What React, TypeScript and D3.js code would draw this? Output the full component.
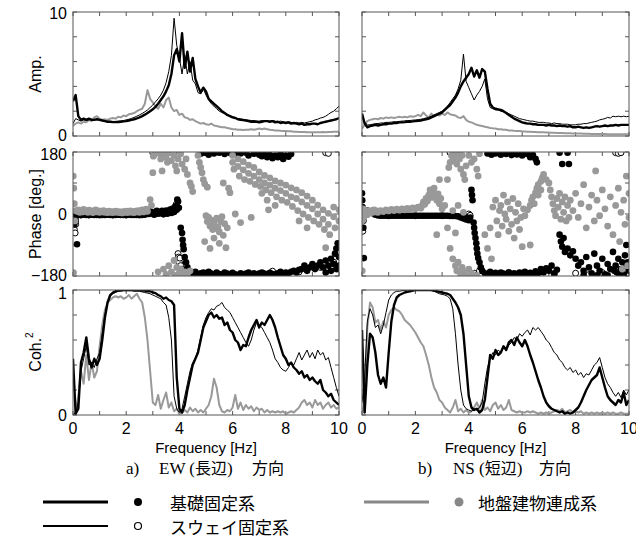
import React from 'react';
import * as d3 from 'd3';

// frequency grid (Hz) for the line spectra
const FREQ: number[] = d3.range(101).map((i) => i / 10);

// ---------- Amplitude (EW) ----------
const ampEW_fix = [2.8, 3.3, 1.6, 1.3, 1.4, 1.3, 1.4, 1.3, 1.3, 1.35,
  1.3, 1.25, 1.2, 1.15, 1.15, 1.12, 1.12, 1.13, 1.15, 1.18,
  1.2, 1.25, 1.3, 1.35, 1.42, 1.5, 1.6, 1.72, 1.85, 2.0,
  2.15, 2.35, 2.6, 2.9, 3.2, 3.6, 4.1, 5.0, 6.5, 7.0,
  6.0, 8.3, 5.5, 6.8, 5.2, 6.3, 4.6, 4.0, 3.5, 3.9,
  3.6, 3.0, 2.8, 2.6, 2.4, 2.2, 2.0, 1.85, 1.7, 1.6,
  1.5, 1.45, 1.35, 1.3, 1.28, 1.25, 1.2, 1.15, 1.15, 1.15,
  1.1, 1.15, 1.2, 1.2, 1.15, 1.2, 1.1, 1.15, 1.05, 1.1,
  1.05, 1.1, 1.0, 1.05, 1.0, 0.95, 1.0, 0.9, 0.95, 0.95,
  1.0, 1.0, 0.95, 1.05, 1.1, 1.15, 1.2, 1.25, 1.3, 1.35, 1.45];
const ampEW_sway = [1.0, 1.4, 1.3, 1.2, 1.3, 1.25, 1.3, 1.35, 1.3, 1.35,
  1.3, 1.25, 1.2, 1.18, 1.18, 1.17, 1.18, 1.2, 1.22, 1.25,
  1.3, 1.35, 1.42, 1.5, 1.6, 1.7, 1.82, 1.95, 2.1, 2.3,
  2.5, 2.75, 3.0, 3.3, 3.7, 4.3, 5.2, 6.5, 9.5, 7.3,
  6.3, 5.0, 6.5, 5.0, 6.0, 4.5, 4.2, 3.5, 3.4, 3.8,
  3.3, 2.9, 2.6, 2.4, 2.2, 2.0, 1.9, 1.8, 1.7, 1.6,
  1.55, 1.5, 1.4, 1.4, 1.35, 1.3, 1.28, 1.25, 1.25, 1.2,
  1.2, 1.25, 1.2, 1.25, 1.2, 1.25, 1.2, 1.15, 1.2, 1.15,
  1.1, 1.15, 1.1, 1.05, 1.1, 1.05, 1.1, 1.05, 1.1, 1.15,
  1.2, 1.3, 1.35, 1.45, 1.5, 1.6, 1.75, 1.9, 2.0, 2.2, 2.4];
const ampEW_ssi = [0.8, 1.0, 1.1, 1.0, 1.15, 1.1, 1.3, 1.2, 1.5, 1.6,
  1.4, 1.3, 1.35, 1.3, 1.4, 1.45, 1.4, 1.55, 1.5, 1.65,
  1.6, 1.75, 1.8, 1.85, 2.0, 2.1, 2.2, 2.6, 3.7, 3.0,
  2.7, 2.4, 2.2, 2.6, 2.3, 2.9, 3.1, 2.3, 2.0, 2.1,
  1.7, 1.8, 1.5, 1.45, 1.3, 1.35, 1.2, 1.1, 1.0, 1.05,
  0.95, 0.9, 1.0, 0.85, 0.8, 0.75, 0.7, 0.7, 0.65, 0.6,
  0.55, 0.55, 0.5, 0.5, 0.48, 0.5, 0.5, 0.55, 0.5, 0.55,
  0.6, 0.55, 0.6, 0.55, 0.5, 0.48, 0.45, 0.45, 0.42, 0.4,
  0.4, 0.38, 0.38, 0.35, 0.35, 0.33, 0.33, 0.32, 0.3, 0.3,
  0.3, 0.3, 0.3, 0.3, 0.32, 0.3, 0.32, 0.33, 0.35, 0.35, 0.35];

// ---------- Amplitude (NS) ----------
const ampNS_fix = [1.8, 1.0, 0.7, 0.8, 0.85, 0.9, 0.85, 0.9, 0.95, 0.95,
  1.0, 1.0, 1.05, 1.05, 1.1, 1.1, 1.12, 1.15, 1.15, 1.18,
  1.2, 1.22, 1.25, 1.3, 1.35, 1.4, 1.5, 1.6, 1.7, 1.8,
  1.9, 2.1, 2.3, 2.5, 2.8, 3.1, 3.5, 4.0, 4.4, 4.7,
  5.0, 5.5, 4.8, 5.3, 4.7, 5.4, 5.2, 3.8, 2.6, 2.3,
  2.2, 2.15, 2.1, 2.0, 1.85, 1.7, 1.55, 1.4, 1.3, 1.2,
  1.1, 1.05, 1.0, 1.0, 0.95, 0.95, 0.9, 0.9, 0.9, 0.85,
  0.9, 0.85, 0.85, 0.8, 0.85, 0.8, 0.8, 0.75, 0.8, 0.7,
  0.7, 0.75, 0.7, 0.65, 0.7, 0.65, 0.7, 0.75, 0.8, 0.75,
  0.8, 0.85, 0.8, 0.85, 0.85, 0.9, 0.85, 0.9, 0.9, 0.9, 0.9];
const ampNS_sway = [1.5, 1.1, 0.9, 0.9, 0.95, 1.0, 1.0, 1.05, 1.05, 1.1,
  1.1, 1.12, 1.15, 1.15, 1.18, 1.2, 1.22, 1.25, 1.25, 1.28,
  1.3, 1.32, 1.35, 1.4, 1.45, 1.5, 1.6, 1.7, 1.8, 1.9,
  2.0, 2.2, 2.4, 2.7, 3.0, 3.3, 3.8, 4.5, 6.6, 4.4,
  3.9, 3.4, 2.9, 3.3, 3.6, 4.0, 4.6, 3.0, 2.3, 2.2,
  2.1, 2.1, 2.0, 1.95, 1.9, 1.8, 1.7, 1.6, 1.5, 1.4,
  1.35, 1.3, 1.25, 1.2, 1.2, 1.15, 1.1, 1.1, 1.1, 1.05,
  1.05, 1.0, 1.05, 1.0, 1.0, 0.95, 0.95, 0.95, 0.9, 0.9,
  0.9, 0.95, 0.95, 1.0, 1.0, 1.05, 1.1, 1.15, 1.2, 1.3,
  1.35, 1.4, 1.5, 1.45, 1.6, 1.55, 1.6, 1.55, 1.6, 1.55, 1.6];
const ampNS_ssi = [0.6, 0.9, 1.2, 1.3, 1.35, 1.4, 1.35, 1.45, 1.4, 1.5,
  1.45, 1.5, 1.45, 1.5, 1.55, 1.5, 1.55, 1.5, 1.6, 1.55,
  1.6, 1.7, 1.6, 1.9, 1.65, 1.5, 1.8, 1.6, 1.75, 1.65,
  1.8, 1.7, 1.9, 1.75, 1.7, 1.65, 1.5, 1.45, 1.6, 1.3,
  1.15, 1.1, 1.0, 0.9, 0.85, 0.8, 0.75, 0.7, 0.65, 0.62,
  0.6, 0.55, 0.55, 0.5, 0.5, 0.45, 0.45, 0.42, 0.4, 0.4,
  0.38, 0.37, 0.35, 0.35, 0.33, 0.32, 0.3, 0.3, 0.3, 0.28,
  0.28, 0.27, 0.26, 0.25, 0.25, 0.24, 0.23, 0.22, 0.22, 0.2,
  0.2, 0.2, 0.2, 0.18, 0.18, 0.18, 0.17, 0.17, 0.17, 0.16,
  0.16, 0.16, 0.15, 0.15, 0.15, 0.15, 0.15, 0.15, 0.15, 0.15, 0.15];

// ---------- Coherence (EW) ----------
const cohEW_fix = [0.45, 0.01, 0.05, 0.42, 0.5, 0.62, 0.45, 0.38, 0.45, 0.4,
  0.45, 0.6, 0.78, 0.9, 0.96, 0.98, 0.99, 0.995, 1.0, 1.0,
  1.0, 1.0, 1.0, 1.0, 1.0, 1.0, 0.995, 0.995, 0.99, 0.99,
  0.98, 0.975, 0.96, 0.95, 0.93, 0.94, 0.92, 0.91, 0.88, 0.3,
  0.05, 0.02, 0.08, 0.2, 0.3, 0.4, 0.45, 0.5, 0.6, 0.7,
  0.75, 0.8, 0.82, 0.78, 0.8, 0.77, 0.78, 0.72, 0.74, 0.68,
  0.66, 0.6, 0.58, 0.52, 0.56, 0.55, 0.62, 0.68, 0.72, 0.76,
  0.7, 0.74, 0.72, 0.76, 0.8, 0.76, 0.7, 0.62, 0.55, 0.48,
  0.45, 0.4, 0.42, 0.38, 0.36, 0.33, 0.35, 0.3, 0.32, 0.28,
  0.3, 0.27, 0.25, 0.28, 0.2, 0.18, 0.15, 0.17, 0.12, 0.1, 0.08];
const cohEW_sway = [0.0, 0.02, 0.1, 0.35, 0.45, 0.55, 0.4, 0.42, 0.38, 0.45,
  0.5, 0.65, 0.8, 0.9, 0.95, 0.97, 0.98, 0.99, 0.99, 0.995,
  0.995, 0.995, 0.995, 0.99, 0.99, 0.99, 0.985, 0.98, 0.975, 0.97,
  0.96, 0.95, 0.94, 0.93, 0.9, 0.88, 0.78, 0.6, 0.15, 0.05,
  0.02, 0.05, 0.15, 0.25, 0.35, 0.42, 0.45, 0.52, 0.62, 0.72,
  0.78, 0.82, 0.85, 0.84, 0.87, 0.88, 0.9, 0.86, 0.84, 0.82,
  0.78, 0.74, 0.7, 0.66, 0.62, 0.58, 0.55, 0.6, 0.68, 0.74,
  0.72, 0.7, 0.66, 0.62, 0.58, 0.52, 0.45, 0.42, 0.38, 0.36,
  0.35, 0.38, 0.42, 0.4, 0.45, 0.5, 0.44, 0.48, 0.52, 0.46,
  0.5, 0.45, 0.52, 0.48, 0.5, 0.44, 0.46, 0.38, 0.3, 0.22, 0.15];
const cohEW_ssi = [0.0, 0.02, 0.15, 0.35, 0.25, 0.48, 0.28, 0.42, 0.3, 0.35,
  0.55, 0.72, 0.84, 0.9, 0.92, 0.94, 0.95, 0.94, 0.95, 0.93,
  0.94, 0.96, 0.93, 0.95, 0.97, 0.93, 0.9, 0.78, 0.6, 0.35,
  0.1, 0.08, 0.16, 0.05, 0.12, 0.18, 0.06, 0.1, 0.03, 0.05,
  0.01, 0.02, 0.04, 0.02, 0.06, 0.03, 0.05, 0.02, 0.04, 0.02,
  0.05, 0.08, 0.15, 0.29, 0.22, 0.08, 0.03, 0.02, 0.04, 0.03,
  0.06, 0.16, 0.05, 0.1, 0.04, 0.08, 0.05, 0.07, 0.03, 0.06,
  0.04, 0.05, 0.02, 0.04, 0.02, 0.03, 0.02, 0.03, 0.02, 0.03,
  0.01, 0.02, 0.03, 0.02, 0.04, 0.06, 0.1, 0.12, 0.08, 0.1,
  0.06, 0.12, 0.08, 0.1, 0.05, 0.08, 0.1, 0.06, 0.08, 0.05, 0.06];

// ---------- Coherence (NS) ----------
const cohNS_fix = [0.68, 0.02, 0.4, 0.65, 0.62, 0.5, 0.32, 0.25, 0.3, 0.22,
  0.5, 0.75, 0.88, 0.94, 0.96, 0.97, 0.98, 0.985, 0.99, 0.995,
  1.0, 1.0, 1.0, 1.0, 1.0, 1.0, 1.0, 0.995, 0.99, 0.985,
  0.98, 0.975, 0.97, 0.96, 0.93, 0.9, 0.86, 0.8, 0.65, 0.4,
  0.15, 0.06, 0.04, 0.05, 0.02, 0.04, 0.12, 0.3, 0.48, 0.45,
  0.52, 0.48, 0.5, 0.55, 0.52, 0.58, 0.6, 0.56, 0.62, 0.58,
  0.55, 0.6, 0.55, 0.48, 0.42, 0.35, 0.28, 0.22, 0.15, 0.1,
  0.07, 0.05, 0.04, 0.03, 0.02, 0.03, 0.01, 0.02, 0.01, 0.02,
  0.04, 0.06, 0.1, 0.15, 0.2, 0.24, 0.28, 0.3, 0.32, 0.38,
  0.3, 0.22, 0.15, 0.12, 0.1, 0.08, 0.12, 0.1, 0.18, 0.08, 0.12];
const cohNS_sway = [0.1, 0.3, 0.75, 0.85, 0.8, 0.7, 0.72, 0.65, 0.72, 0.82,
  0.92, 0.96, 0.98, 0.99, 0.99, 0.995, 0.995, 1.0, 1.0, 1.0,
  1.0, 1.0, 1.0, 1.0, 1.0, 1.0, 0.995, 0.99, 0.98, 0.97,
  0.965, 0.96, 0.95, 0.93, 0.85, 0.65, 0.4, 0.2, 0.08, 0.05,
  0.04, 0.03, 0.05, 0.04, 0.06, 0.1, 0.25, 0.38, 0.45, 0.5,
  0.48, 0.52, 0.5, 0.55, 0.52, 0.56, 0.58, 0.62, 0.6, 0.65,
  0.63, 0.66, 0.68, 0.64, 0.7, 0.68, 0.7, 0.67, 0.64, 0.6,
  0.58, 0.54, 0.5, 0.48, 0.44, 0.42, 0.38, 0.36, 0.38, 0.34,
  0.36, 0.32, 0.34, 0.3, 0.33, 0.32, 0.36, 0.4, 0.42, 0.46,
  0.38, 0.3, 0.25, 0.22, 0.18, 0.15, 0.18, 0.14, 0.2, 0.16, 0.2];
const cohNS_ssi = [0.0, 0.1, 0.7, 0.9, 0.86, 0.74, 0.76, 0.68, 0.75, 0.7,
  0.8, 0.84, 0.86, 0.84, 0.83, 0.8, 0.76, 0.74, 0.72, 0.69,
  0.66, 0.62, 0.58, 0.55, 0.48, 0.4, 0.3, 0.22, 0.18, 0.12,
  0.1, 0.06, 0.04, 0.02, 0.06, 0.12, 0.03, 0.05, 0.02, 0.04,
  0.02, 0.03, 0.06, 0.1, 0.05, 0.12, 0.04, 0.06, 0.03, 0.08,
  0.1, 0.05, 0.08, 0.04, 0.06, 0.12, 0.04, 0.03, 0.02, 0.03,
  0.02, 0.02, 0.03, 0.02, 0.03, 0.02, 0.01, 0.02, 0.01, 0.02,
  0.01, 0.02, 0.03, 0.04, 0.03, 0.05, 0.02, 0.03, 0.04, 0.02,
  0.03, 0.02, 0.03, 0.01, 0.02, 0.01, 0.02, 0.01, 0.02, 0.01,
  0.02, 0.01, 0.02, 0.01, 0.02, 0.01, 0.01, 0.02, 0.01, 0.01, 0.01];

// ---------- Phase scatter [freq Hz, deg] ----------
type Pt = [number, number];
const phEW_fix: Pt[] = [
  [0.01, -5], [0.02, -25], [0.03, 5], [0.04, -15], [0.05, -30], [0.07, 0], [0.08, -12], [0.1, -20], [0.12, -4], [0.15, -88],
  [0.2, -3], [0.3, -3], [0.4, -2], [0.5, -3], [0.6, -3], [0.7, -2], [0.8, -3], [0.9, -3], [1.0, -2], [1.1, -3],
  [1.2, -3], [1.3, -2], [1.4, -3], [1.5, -3], [1.6, -3], [1.7, -2], [1.8, -3], [1.9, -3], [2.0, -3], [2.1, -2],
  [2.2, -3], [2.3, -3], [2.4, -3], [2.5, -2], [2.6, -3], [2.7, -2],
  [2.8, 6], [2.85, 0], [2.9, 8], [2.95, 2], [3.0, 5], [3.05, -2], [3.1, 4], [3.15, 9], [3.2, 1], [3.25, 6],
  [3.3, 2], [3.35, 9], [3.4, -1], [3.45, 5], [3.5, 10], [3.55, 1], [3.6, 7], [3.65, 13], [3.7, 3], [3.75, 16],
  [3.8, 6], [3.85, 22], [3.9, 12], [3.92, 42], [3.95, 36], [3.98, 18],
  [4.05, -40], [4.1, -55], [4.12, -75], [4.14, -90], [4.16, -102], [4.2, -125], [4.25, -140], [4.3, -155], [4.35, -165],
  [4.4, -170], [4.5, -174], [4.6, -168], [4.7, -176], [4.8, -172], [4.9, -170], [5.0, -175], [5.1, -168], [5.2, -173], [5.3, -177],
  [5.4, -170], [5.5, -174], [5.6, -176], [5.7, -170], [5.8, -173], [5.9, -176], [6.0, -171], [6.1, -175], [6.2, -178], [6.3, -172],
  [6.4, -176], [6.5, -173], [6.6, -170], [6.7, -175], [6.8, -172], [6.9, -176], [7.0, -174], [7.1, -170], [7.2, -173], [7.3, -177],
  [7.4, -171], [7.5, -174], [7.6, -176], [7.7, -172], [7.8, -168], [7.9, -175], [8.0, -170], [8.1, -172], [8.2, -168], [8.3, -165],
  [8.4, -170], [8.5, -162],
  [4.8, 175], [4.95, 178], [5.1, 172], [5.3, 176], [5.5, 178], [5.7, 174], [5.9, 177], [6.1, 172], [6.3, 176], [6.5, 178],
  [6.6, 170], [6.8, 175], [7.0, 172], [7.1, 168], [7.2, 176], [7.3, 165], [7.4, 172], [7.5, 162], [7.6, 170], [7.7, 165],
  [7.8, 175], [7.9, 160], [8.0, 170], [8.1, 166], [8.2, 174],
  [8.6, -160], [8.7, -150], [8.8, -165], [8.9, -155], [9.0, -145], [9.1, -160], [9.2, -150], [9.3, -140], [9.4, -155], [9.5, -135],
  [9.6, -150], [9.7, -130], [9.8, -145], [9.85, -115], [9.9, -100], [9.95, -85], [10, -125], [9.5, -170], [9.7, -165], [9.9, -160], [10, -150],
];
const phEW_sway: Pt[] = [
  [0.02, -10], [0.05, -45], [0.08, -55], [0.1, -30], [0.3, -3], [0.6, -3], [1.0, -3], [1.5, -3], [2.0, -3], [2.5, -3],
  [3.0, 178], [3.1, 176], [3.3, 178], [3.5, 177], [3.6, 178], [3.8, 176], [3.88, 28], [3.9, 22],
  [3.95, -115], [3.97, -125], [4.0, -140], [4.02, -128], [4.05, -150], [4.1, -160], [4.15, -165],
  [5.0, -172], [6.0, -174], [7.0, -173], [7.5, -166], [8.0, -172], [8.5, -168], [9.0, -150], [9.3, -155],
  [9.5, 178], [9.6, 176], [9.8, -140],
];
const phEW_ssi: Pt[] = [
  [0.01, 110], [0.02, -170], [0.03, 75], [0.05, 30], [0.07, -20], [0.1, 10],
  [0.15, 8], [0.2, 12], [0.25, 5], [0.3, 10], [0.35, 6], [0.4, 13], [0.45, 7], [0.5, 9], [0.55, 5], [0.6, 11],
  [0.65, 6], [0.7, 9], [0.75, 4], [0.8, 8], [0.85, 12], [0.9, 6], [0.95, 9], [1.0, 5], [1.05, 8], [1.1, 6],
  [1.15, 10], [1.2, 5], [1.25, 7], [1.3, 4], [1.35, 8], [1.4, 5], [1.45, 7], [1.5, 4], [1.55, 6], [1.6, 8],
  [1.65, 5], [1.7, 7], [1.75, 4], [1.8, 6], [1.85, 3], [1.9, 7], [1.95, 5], [2.0, 8], [2.05, 4], [2.1, 6],
  [2.15, 9], [2.2, 5], [2.25, 7], [2.3, 4], [2.35, 8], [2.4, 6], [2.45, 10], [2.5, 5], [2.55, 8], [2.6, 12],
  [2.65, 6], [2.7, 9], [2.75, 14], [2.8, 8],
  [2.9, 42], [2.95, 25], [3.0, 120], [3.02, 168], [3.05, 172], [3.2, 178], [3.3, 160], [3.35, 125], [3.4, 175], [3.5, 165],
  [3.55, 150], [3.6, 178], [3.7, 155], [3.8, 170], [3.85, 140], [3.9, 125], [3.95, 160], [4.05, 175], [4.1, 145], [4.2, 130],
  [4.25, 160], [4.3, 115], [4.4, 90], [4.45, 80], [4.5, 65],
  [3.2, -168], [3.4, -160], [3.5, -175], [3.6, -150], [3.7, -168], [3.8, -135], [3.85, -178], [3.9, -155], [4.0, -170], [4.05, -160],
  [4.1, -178], [4.2, -168], [4.3, -175], [4.4, -165],
  [4.7, 170], [4.75, 150], [4.8, 135], [4.85, 120], [4.9, 100], [4.95, 88], [5.05, 78],
  [4.95, -80], [5.0, -5], [5.05, -22], [5.1, -10], [5.15, -35], [5.2, -18], [5.25, -45], [5.3, -25], [5.35, -42], [5.4, -12],
  [5.45, -38], [5.5, -52], [5.55, -22], [5.6, -8], [5.65, -62], [5.7, -28], [5.75, -98], [5.8, -40], [5.15, -100], [5.3, -70], [5.5, -85],
  [5.65, 90], [5.85, 75], [5.9, 62],
  [6.0, 170], [6.0, 150], [6.05, 130], [6.2, 160], [6.2, 138], [6.25, 110], [6.4, 152], [6.4, 128], [6.45, 100], [6.6, 142],
  [6.6, 118], [6.65, 95], [6.8, 135], [6.8, 110], [6.85, 86], [7.0, 122], [7.0, 100], [7.05, 80], [7.2, 112], [7.2, 90],
  [7.25, 70], [7.4, 105], [7.4, 84], [7.45, 62], [7.6, 96], [7.6, 75], [7.65, 50], [7.8, 90], [7.8, 68], [7.85, 40],
  [8.0, 84], [8.0, 60], [8.05, 34], [8.2, 76], [8.2, 50], [8.25, 22], [8.4, 70], [8.4, 45], [8.45, 10], [8.6, 62],
  [8.6, 35], [8.65, 0], [8.8, 52], [8.8, 25], [8.85, -10], [9.0, 40], [9.0, 15], [9.05, -20], [9.2, 26], [9.2, 0],
  [9.25, -30], [9.4, 12], [9.4, -15], [9.45, -45], [9.6, 2], [9.6, -30], [9.65, -60], [9.8, 20], [9.8, -8], [9.85, -40],
  [10, 12], [10, -20],
  [6.1, 0], [6.3, -25], [7.3, 40], [7.35, 12], [7.6, 25], [8.5, -20], [9.5, -98], [8.8, -40], [6.7, -10], [7.1, 60],
];

const phNS_fix: Pt[] = [
  [0.0, 60], [0.01, 40], [0.02, 20], [0.03, 0], [0.04, -10], [0.05, -40], [0.07, -128],
  [0.1, 8], [0.2, 10], [0.3, 6], [0.4, 2], [0.5, -2], [0.6, -4], [0.7, -5], [0.8, -5], [0.9, -5], [1.0, -5],
  [1.1, -5], [1.2, -5], [1.3, -5], [1.4, -5], [1.5, -5], [1.6, -5], [1.7, -5], [1.8, -5], [1.9, -5], [2.0, -5],
  [2.1, -5], [2.2, -5], [2.3, -5], [2.4, -5], [2.5, -5], [2.6, -5], [2.7, -5], [2.8, -5], [2.9, -5], [3.0, -5],
  [3.1, -5], [3.2, -5], [3.3, -6], [3.4, -6], [3.5, -6],
  [3.6, -7], [3.7, -10], [3.8, -13], [3.85, -8], [3.9, -16], [3.95, -12], [4.0, -18], [4.05, -10],
  [4.1, 70], [4.12, 55], [4.14, 40], [4.18, -25], [4.2, -40], [4.22, -55], [4.25, -70], [4.28, -85], [4.3, -100], [4.32, -115],
  [4.35, -128], [4.4, -140], [4.45, -155], [4.5, -165],
  [4.6, -172], [4.7, -176], [4.8, -168], [4.9, -174], [5.0, -171], [5.1, -177], [5.2, -170], [5.3, -173], [5.4, -176], [5.5, -169],
  [5.6, -174], [5.7, -172], [5.8, -177], [5.9, -170], [6.0, -174], [6.1, -168], [6.2, -175], [6.3, -171], [6.4, -176], [6.5, -166],
  [6.6, -172], [6.7, -160], [6.8, -170], [6.9, -158], [7.0, -165], [7.1, -150], [7.2, -172], [7.3, -162],
  [4.7, 176], [4.85, 172], [5.0, 176], [5.1, 178], [5.2, 172], [5.3, 177], [5.4, 174], [5.5, 178], [5.6, 171], [5.7, 176],
  [5.8, 173], [5.9, 178], [6.0, 170], [6.1, 176], [6.2, 174], [6.3, 165], [6.4, 172], [6.5, 160], [6.55, 150],
  [7.4, 178], [7.7, 178], [7.5, 145], [7.75, 145],
  [7.4, -60], [7.45, -80], [7.5, -95], [7.55, -70], [7.6, -110], [7.7, -100], [7.8, -120], [7.9, -108], [8.0, -130],
  [8.1, -150], [8.2, -140], [8.3, -165], [8.4, -125], [8.5, -155], [8.6, -172], [8.7, -115], [8.8, -150], [8.9, -165], [9.0, -130],
  [9.1, -175], [9.2, -145], [9.3, -160], [9.4, -110], [9.5, -150], [9.55, -170], [9.6, -130], [9.7, -160], [9.75, -140], [9.8, -175],
  [9.85, -120], [9.9, -155], [9.95, -140], [10, -165], [8.3, -178], [8.8, -178], [9.2, -178], [9.9, -90], [9.45, -165], [9.65, -178],
];
const phNS_sway: Pt[] = [
  [0.0, 10], [0.03, -50], [0.05, -20], [1.0, -5], [2.0, -5], [3.0, -5], [3.8, -2], [3.9, -8], [4.0, 0], [4.05, -4],
  [4.2, -172], [4.3, -178], [4.4, -165], [3.3, 178], [3.45, 176], [3.6, 178], [9.5, 178], [9.6, 176], [9.7, 178],
  [9.8, -175], [9.9, -160], [8.0, -172], [7.2, -175], [8.5, -176], [9.0, -170],
];
const phNS_ssi: Pt[] = [
  [0.0, -20], [0.01, -165], [0.02, 12], [0.03, -5], [0.05, 15], [0.07, -8], [0.1, 5], [0.15, 10], [0.2, -2], [0.25, 8],
  [0.3, 3], [0.35, 10], [0.4, 5], [0.45, 12], [0.5, 6], [0.55, 9], [0.6, 5], [0.7, 10], [0.8, 7], [0.9, 12],
  [1.0, 9], [1.1, 13], [1.2, 10], [1.3, 14], [1.4, 11], [1.5, 15], [1.6, 12], [1.7, 16], [1.8, 14], [1.9, 18],
  [2.0, 15], [2.1, 20], [2.2, 17], [2.25, 24], [2.3, 35], [2.35, 28], [2.4, 45], [2.45, 38], [2.5, 55], [2.55, 70],
  [2.6, 48], [2.65, 62], [2.7, 75], [2.75, 52], [2.8, 40], [2.85, 58], [2.9, 30], [2.95, 45], [3.0, 15], [3.1, 25],
  [2.8, -60], [2.9, 100], [3.2, 100], [3.25, 135], [3.3, 150], [3.35, 170], [3.4, 155], [3.45, 175], [3.5, 165], [3.55, 145],
  [3.6, 178], [3.65, 160], [3.7, 130], [3.75, 170], [3.8, 115], [3.85, 100], [3.9, 140],
  [4.0, 170], [4.1, 150], [4.2, 160], [4.3, 130], [4.35, 110], [4.4, 175],
  [3.3, -100], [3.4, -130], [3.5, -150], [3.55, -165], [3.6, -140], [3.7, -175], [3.75, -155], [3.8, -168], [3.9, -178], [4.0, -160],
  [4.1, -172], [4.3, -178], [3.2, -40], [3.5, -55], [3.4, 10], [3.6, 25], [3.8, 5],
  [4.6, -60], [4.7, -100], [4.8, -40], [4.85, -130], [4.9, 20], [5.0, 40], [5.05, -20], [5.1, -60], [5.15, 10], [5.2, 25],
  [5.25, -35], [5.3, 55], [5.35, 0], [5.4, -15], [5.45, 35], [5.5, -50], [5.55, 15], [5.6, -30], [5.65, 45], [5.7, -70],
  [5.75, 5], [5.8, -20], [5.85, 30], [5.9, -45], [5.95, -10], [6.0, -95], [6.05, 15], [6.3, -90],
  [6.1, -5], [6.2, 12], [6.3, 25], [6.35, 40], [6.4, 50], [6.5, 62], [6.55, 75], [6.6, 85], [6.7, 95], [6.75, 105],
  [6.8, 115], [6.9, 100], [7.0, 90], [6.45, 30], [6.6, 55], [6.7, 70],
  [7.05, 70], [7.1, 50], [7.15, 30], [7.2, 10], [7.25, -5], [7.3, 45], [7.35, 20], [7.4, 60], [7.45, -15], [7.5, 35],
  [7.55, 5], [7.6, 50], [7.65, -20], [7.7, 25], [7.75, -10], [7.8, 40],
  [7.9, 10], [8.0, 60], [8.1, -10], [8.2, 30], [8.3, 85], [8.4, -40], [8.5, 20], [8.6, 55], [8.7, -20], [8.75, 125],
  [8.8, 40], [8.9, -5], [9.0, 70], [9.1, 15], [9.2, -35], [9.3, 50], [9.4, -60], [9.5, 25], [9.6, 75], [9.65, -80],
  [9.7, 5], [9.8, 40], [9.85, -30], [9.9, 110], [10, -10], [9.95, -150], [9.75, -160], [10, 60],
];

// ---------- ticks / labels ----------
const X_TICKS = d3.range(0, 11);
const X_TICK_LABELS = [0, 2, 4, 6, 8, 10];
const AMP_TICKS = [0, 2, 4, 6, 8, 10];
const PH_TICKS = [-180, -90, 0, 90, 180];
const COH_TICKS = [0, 0.2, 0.4, 0.6, 0.8, 1];
// left-axis labels: [value, vertical nudge]
const AMP_LABELS: [number, number][] = [[0, -1], [10, 1]];
const PH_LABELS: [number, number][] = [[-180, -1], [0, 0], [180, 2]];
const COH_LABELS: [number, number][] = [[0, 0], [1, 3]];

const BLACK = '#000';
const GRAY = '#999';
const SANS = '"Liberation Sans", Arial, Helvetica, sans-serif';
const SERIF = '"Liberation Serif", "Times New Roman", "Noto Sans CJK JP", serif';
const CJK = '"Noto Sans CJK JP", sans-serif';

const COLS = [
  { key: 'EW', x0: 73, x1: 339 },
  { key: 'NS', x0: 362, x1: 629 },
];
const ROWS = {
  amp: { y0: 12, y1: 136, dom: [0, 10], ticks: AMP_TICKS, labels: AMP_LABELS },
  ph: { y0: 152, y1: 276, dom: [-180, 180], ticks: PH_TICKS, labels: PH_LABELS },
  coh: { y0: 290, y1: 415, dom: [0, 1], ticks: COH_TICKS, labels: COH_LABELS },
};

const LINES: Record<string, Record<string, number[][]>> = {
  EW: { amp: [ampEW_ssi, ampEW_fix, ampEW_sway], coh: [cohEW_ssi, cohEW_fix, cohEW_sway] },
  NS: { amp: [ampNS_ssi, ampNS_fix, ampNS_sway], coh: [cohNS_ssi, cohNS_fix, cohNS_sway] },
};
const PHASE: Record<string, Pt[][]> = {
  EW: [phEW_sway, phEW_fix, phEW_ssi],
  NS: [phNS_sway, phNS_fix, phNS_ssi],
};

function Frame({ x, y, id, ticks }: any) {
  const [x0, x1] = x.range();
  const [y1, y0] = y.range();
  return (
    <g>
      <defs>
        <clipPath id={id}>
          <rect x={x0} y={y0} width={x1 - x0} height={y1 - y0} />
        </clipPath>
      </defs>
      {X_TICKS.map((t) => (
        <g key={'xt' + t} stroke="#555" strokeWidth={1}>
          <line x1={x(t)} x2={x(t)} y1={y1} y2={y1 - 4} />
          <line x1={x(t)} x2={x(t)} y1={y0} y2={y0 + 4} />
        </g>
      ))}
      {ticks.map((t: number) => (
        <g key={'yt' + t} stroke="#555" strokeWidth={1}>
          <line x1={x0} x2={x0 + 4} y1={y(t)} y2={y(t)} />
          <line x1={x1} x2={x1 - 4} y1={y(t)} y2={y(t)} />
        </g>
      ))}
    </g>
  );
}

export default function App() {
  const panels: any[] = [];
  COLS.forEach((c, ci) => {
    const x = d3.scaleLinear().domain([0, 10]).range([c.x0, c.x1]);
    (['amp', 'ph', 'coh'] as const).forEach((rk) => {
      const r = ROWS[rk];
      const y = d3.scaleLinear().domain(r.dom).range([r.y1, r.y0]);
      const id = `clip-${c.key}-${rk}`;
      let content: any = null;
      if (rk === 'ph') {
        const [sway, fix, ssi] = PHASE[c.key];
        content = (
          <g clipPath={`url(#${id})`}>
            {sway.map((p, i) => (
              <circle key={'s' + i} cx={x(p[0])} cy={y(p[1])} r={3} fill="#fff" stroke={BLACK} strokeWidth={1} />
            ))}
            {fix.map((p, i) => (
              <circle key={'f' + i} cx={x(p[0])} cy={y(p[1])} r={3.3} fill={BLACK} />
            ))}
            {ssi.map((p, i) => (
              <circle key={'g' + i} cx={x(p[0])} cy={y(p[1])} r={3.4} fill={GRAY} />
            ))}
          </g>
        );
      } else {
        const [ssi, fix, sway] = LINES[c.key][rk];
        const line = (vals: number[]) =>
          d3.line<number>().x((_, i) => x(FREQ[i])).y((v) => y(v))(vals) || '';
        content = (
          <g clipPath={`url(#${id})`} fill="none" strokeLinejoin="round">
            <path d={line(ssi)} stroke={GRAY} strokeWidth={2} />
            <path d={line(fix)} stroke={BLACK} strokeWidth={2.4} />
            <path d={line(sway)} stroke={BLACK} strokeWidth={1} />
          </g>
        );
      }
      panels.push(
        <g key={id}>
          <Frame x={x} y={y} id={id} ticks={r.ticks} />
          {content}
          <rect x={c.x0} y={r.y0} width={c.x1 - c.x0} height={r.y1 - r.y0} fill="none" stroke="#555" strokeWidth={1} />
          {ci === 0 && r.labels.map(([t, nudge]) => (
            <text key={'yl' + t} x={67} y={y(t) + nudge} dy="0.35em" textAnchor="end" fontSize={16} fontFamily={SANS}>
              {t < 0 ? '\u2212' + Math.abs(t) : t}
            </text>
          ))}
          {rk === 'coh' && X_TICK_LABELS.map((t) => (
            <text key={'xl' + t} x={x(t)} y={434} textAnchor="middle" fontSize={16} fontFamily={SANS}>{t}</text>
          ))}
          {rk === 'coh' && (
            <text x={(c.x0 + c.x1) / 2} y={453} textAnchor="middle" fontSize={15} fontFamily={SANS}>Frequency [Hz]</text>
          )}
        </g>
      );
    });
  });

  return (
    <svg width={636} height={537} style={{ position: 'absolute', left: 0, top: 0, background: '#fff' }}>
      <rect width={636} height={537} fill="#fff" />
      {panels}
      {/* y axis titles */}
      <text transform="translate(35,74) rotate(-90)" textAnchor="middle" dominantBaseline="central" fontSize={16} fontFamily={SANS}>Amp.</text>
      <text transform="translate(35,214) rotate(-90)" textAnchor="middle" dominantBaseline="central" fontSize={16} fontFamily={SANS}>Phase [deg.]</text>
      <text transform="translate(35,352) rotate(-90)" textAnchor="middle" dominantBaseline="central" fontSize={16} fontFamily={SANS}>
        Coh.<tspan dy={-6} fontSize={10}>2</tspan>
      </text>
      {/* captions */}
      <g fontFamily={SERIF} fontSize={17}>
        <text x={126} y={474}>a)</text>
        <text x={159} y={474}>EW (<tspan fontFamily={CJK} fontSize={16}>長辺</tspan>)</text>
        <text x={252} y={474} fontFamily={CJK} fontSize={16}>方向</text>
        <text x={418} y={474}>b)</text>
        <text x={453} y={474}>NS (<tspan fontFamily={CJK} fontSize={16}>短辺</tspan>)</text>
        <text x={539} y={474} fontFamily={CJK} fontSize={16}>方向</text>
      </g>
      {/* legend */}
      <line x1={43} x2={108} y1={502} y2={502} stroke={BLACK} strokeWidth={3} />
      <circle cx={138} cy={502} r={4} fill={BLACK} />
      <text x={170} y={502} dominantBaseline="central" fontSize={17} fontFamily={CJK}>基礎固定系</text>
      <line x1={43} x2={108} y1={526} y2={526} stroke={BLACK} strokeWidth={2} />
      <circle cx={138} cy={526} r={3.5} fill="#fff" stroke={BLACK} strokeWidth={1.2} />
      <text x={170} y={526} dominantBaseline="central" fontSize={17} fontFamily={CJK}>スウェイ固定系</text>
      <line x1={364} x2={429} y1={502} y2={502} stroke="#888" strokeWidth={3} />
      <circle cx={459} cy={502} r={4.5} fill="#888" />
      <text x={478} y={502} dominantBaseline="central" fontSize={17} fontFamily={CJK}>地盤建物連成系</text>
    </svg>
  );
}
